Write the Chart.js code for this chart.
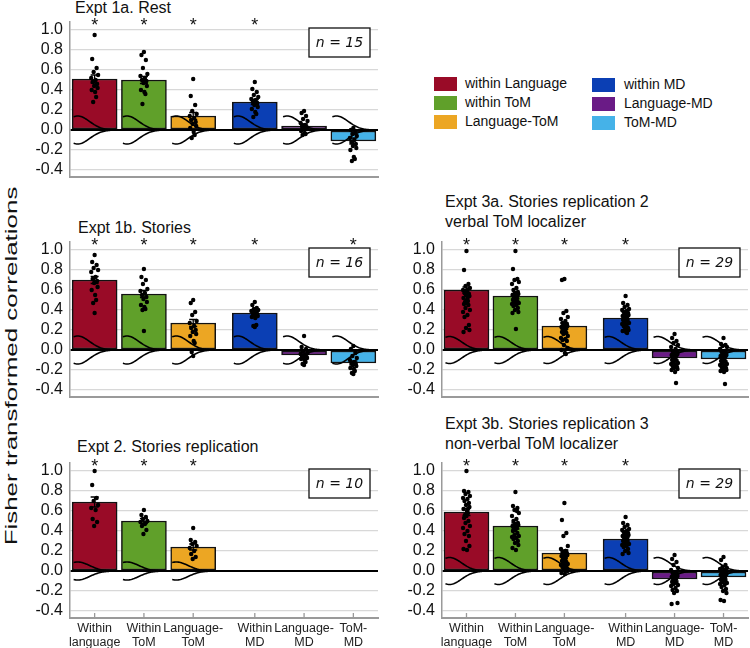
<!DOCTYPE html>
<html>
<head>
<meta charset="utf-8">
<script src="https://cdn.jsdelivr.net/npm/chart.js@4.4.1/dist/chart.umd.min.js"></script>
<style>
  body { margin: 0; width: 750px; height: 648px; overflow: hidden; background: #fff; position: relative;
         font-family: "Liberation Sans", Arial, Helvetica, sans-serif; color: #111; }
  canvas { position: absolute; }
  .title { position: absolute; font-size: 16px; line-height: 20px; white-space: nowrap; }
  .ytitle { position: absolute; left: 12px; top: 366px; font-size: 16px; white-space: nowrap;
            transform: translate(-50%, -50%) rotate(-90deg) scaleX(1.62); }
  .leg { position: absolute; font-size: 14px; line-height: 14px; white-space: nowrap; }
  .leg span { position: absolute; top: 0; width: 23px; height: 14px; }
</style>
</head>
<body>
<div class="ytitle">Fisher transformed correlations</div>

<div class="title" style="left:75px;top:-2px">Expt 1a. Rest</div>
<div class="title" style="left:78px;top:218px">Expt 1b. Stories</div>
<div class="title" style="left:77px;top:437px">Expt 2. Stories replication</div>
<div class="title" style="left:445px;top:192px">Expt 3a. Stories replication 2<br>verbal ToM localizer</div>
<div class="title" style="left:445px;top:414px">Expt 3b. Stories replication 3<br>non-verbal ToM localizer</div>

<div id="legend"></div>

<canvas id="c1a" width="365" height="179" style="left:15px;top:0px"></canvas>
<canvas id="c1b" width="365" height="179" style="left:15px;top:220px"></canvas>
<canvas id="c2" width="365" height="207" style="left:15px;top:441px"></canvas>
<canvas id="c3a" width="363" height="179" style="left:387px;top:220px"></canvas>
<canvas id="c3b" width="363" height="207" style="left:387px;top:441px"></canvas>

<script>
// categories and tick labels
const categories = ["within Language", "within ToM", "Language-ToM", "within MD", "Language-MD", "ToM-MD"];
const tickLabels = [["Within", "language"], ["Within", "ToM"], ["Language-", "ToM"],
                    ["Within", "MD"], ["Language-", "MD"], ["ToM-", "MD"]];
const barColors = ["#990b27", "#60a02a", "#eca623", "#0b3fb4", "#6a1b86", "#45b2e8"];
const xPositions = [1, 2, 3, 4.25, 5.25, 6.25];
const yTicks = [-0.4, -0.2, 0, 0.2, 0.4, 0.6, 0.8, 1.0];

// Expt 1a. Rest (n = 15)
const rest1aMeans = [0.51, 0.50, 0.14, 0.28, 0.04, -0.11];
const rest1aSem = [0.04, 0.035, 0.035, 0.025, 0.02, 0.03];
const rest1aSig = [1, 1, 1, 1, 0, 0];
const rest1aDots = [
  [0.95, 0.71, 0.62, 0.58, 0.55, 0.52, 0.50, 0.48, 0.46, 0.44, 0.42, 0.40, 0.38, 0.33, 0.28],
  [0.78, 0.75, 0.70, 0.62, 0.56, 0.54, 0.52, 0.50, 0.49, 0.47, 0.44, 0.40, 0.38, 0.36, 0.26],
  [0.51, 0.34, 0.25, 0.19, 0.16, 0.14, 0.12, 0.10, 0.08, 0.06, 0.04, 0.02, -0.02, -0.05, -0.08],
  [0.48, 0.41, 0.38, 0.35, 0.33, 0.31, 0.30, 0.28, 0.27, 0.25, 0.23, 0.21, 0.18, 0.16, 0.13],
  [0.19, 0.17, 0.14, 0.11, 0.09, 0.07, 0.05, 0.04, 0.03, 0.02, 0.01, -0.01, -0.03, -0.04, -0.05],
  [0.02, 0.00, -0.02, -0.04, -0.06, -0.08, -0.10, -0.12, -0.14, -0.16, -0.18, -0.20, -0.27, -0.29, -0.31]
];

// Expt 1b. Stories (n = 16)
const stories1bMeans = [0.70, 0.56, 0.27, 0.37, -0.05, -0.13];
const stories1bSem = [0.035, 0.035, 0.035, 0.02, 0.02, 0.02];
const stories1bSig = [1, 1, 1, 1, 0, 1];
const stories1bDots = [
  [0.95, 0.88, 0.85, 0.82, 0.80, 0.78, 0.73, 0.71, 0.69, 0.67, 0.63, 0.60, 0.55, 0.50, 0.47, 0.37],
  [0.81, 0.73, 0.70, 0.66, 0.61, 0.59, 0.57, 0.55, 0.53, 0.51, 0.48, 0.45, 0.43, 0.41, 0.40, 0.19],
  [0.50, 0.47, 0.38, 0.35, 0.29, 0.27, 0.24, 0.22, 0.20, 0.18, 0.16, 0.14, 0.09, 0.07, -0.02, -0.06],
  [0.48, 0.45, 0.42, 0.41, 0.40, 0.39, 0.38, 0.37, 0.36, 0.35, 0.34, 0.33, 0.32, 0.25, 0.24, 0.23],
  [0.14, 0.03, 0.01, -0.01, -0.03, -0.04, -0.05, -0.06, -0.07, -0.07, -0.08, -0.09, -0.10, -0.12, -0.14, -0.15],
  [0.04, 0.01, -0.03, -0.06, -0.08, -0.10, -0.12, -0.13, -0.14, -0.15, -0.16, -0.18, -0.19, -0.21, -0.23, -0.24]
];

// Expt 2. Stories replication (n = 10), no MD regions
const replication2Means = [0.69, 0.50, 0.24, null, null, null];
const replication2Sem = [0.05, 0.025, 0.03, 0, 0, 0];
const replication2Sig = [1, 1, 1, 0, 0, 0];
const replication2Dots = [
  [1.00, 0.86, 0.73, 0.70, 0.66, 0.63, 0.61, 0.52, 0.49, 0.45],
  [0.61, 0.56, 0.54, 0.52, 0.50, 0.49, 0.47, 0.45, 0.41, 0.37],
  [0.43, 0.31, 0.29, 0.27, 0.25, 0.23, 0.20, 0.17, 0.14, 0.12],
  [], [], []
];

// Expt 3a. Stories replication 2, verbal ToM localizer (n = 29)
const replication3aMeans = [0.60, 0.54, 0.24, 0.32, -0.08, -0.09];
const replication3aSem = [0.03, 0.025, 0.03, 0.015, 0.02, 0.02];
const replication3aSig = [1, 1, 1, 1, 0, 0];
const replication3aDots = [
  [0.99, 0.80, 0.66, 0.64, 0.62, 0.60, 0.58, 0.57, 0.56, 0.55, 0.54, 0.52, 0.50, 0.49, 0.48, 0.47, 0.46, 0.45, 0.42, 0.40, 0.38, 0.35, 0.33, 0.25, 0.22, 0.20, 0.18, 0.60, 0.53],
  [0.99, 0.81, 0.71, 0.70, 0.68, 0.66, 0.62, 0.60, 0.58, 0.57, 0.56, 0.55, 0.54, 0.53, 0.52, 0.51, 0.50, 0.49, 0.48, 0.47, 0.46, 0.45, 0.44, 0.42, 0.40, 0.38, 0.37, 0.21, 0.55],
  [0.71, 0.70, 0.39, 0.37, 0.33, 0.31, 0.29, 0.27, 0.26, 0.25, 0.24, 0.23, 0.22, 0.21, 0.20, 0.19, 0.18, 0.17, 0.16, 0.14, 0.12, 0.11, 0.10, 0.09, 0.05, 0.02, 0.00, -0.03, -0.04],
  [0.54, 0.47, 0.45, 0.43, 0.41, 0.40, 0.39, 0.38, 0.37, 0.36, 0.35, 0.34, 0.33, 0.32, 0.31, 0.30, 0.30, 0.29, 0.28, 0.27, 0.26, 0.25, 0.24, 0.22, 0.21, 0.20, 0.19, 0.18, 0.17],
  [0.16, 0.12, 0.09, 0.07, 0.05, 0.03, 0.01, -0.01, -0.02, -0.03, -0.04, -0.05, -0.06, -0.07, -0.08, -0.09, -0.10, -0.11, -0.12, -0.13, -0.14, -0.15, -0.16, -0.17, -0.18, -0.19, -0.20, -0.22, -0.33],
  [0.12, 0.06, 0.05, 0.04, 0.03, 0.01, -0.01, -0.02, -0.03, -0.04, -0.05, -0.06, -0.07, -0.08, -0.09, -0.10, -0.11, -0.12, -0.13, -0.14, -0.15, -0.16, -0.17, -0.18, -0.19, -0.20, -0.21, -0.22, -0.34]
];

// Expt 3b. Stories replication 3, non-verbal ToM localizer (n = 29)
const replication3bMeans = [0.59, 0.45, 0.18, 0.32, -0.08, -0.06];
const replication3bSem = [0.035, 0.03, 0.03, 0.015, 0.02, 0.02];
const replication3bSig = [1, 1, 1, 1, 0, 0];
const replication3bDots = [
  [1.00, 0.80, 0.79, 0.77, 0.75, 0.73, 0.72, 0.70, 0.68, 0.66, 0.64, 0.62, 0.60, 0.58, 0.56, 0.55, 0.53, 0.50, 0.48, 0.45, 0.43, 0.40, 0.37, 0.35, 0.30, 0.25, 0.22, 0.21, 0.62],
  [0.79, 0.65, 0.63, 0.61, 0.58, 0.55, 0.52, 0.50, 0.48, 0.47, 0.46, 0.45, 0.44, 0.43, 0.42, 0.41, 0.40, 0.38, 0.36, 0.35, 0.34, 0.33, 0.32, 0.30, 0.28, 0.26, 0.23, 0.21, 0.60],
  [0.68, 0.51, 0.38, 0.35, 0.25, 0.22, 0.20, 0.19, 0.18, 0.17, 0.16, 0.15, 0.14, 0.13, 0.12, 0.11, 0.10, 0.09, 0.08, 0.07, 0.06, 0.05, 0.04, 0.03, 0.02, 0.00, -0.02, -0.03, 0.20],
  [0.54, 0.48, 0.46, 0.44, 0.42, 0.41, 0.40, 0.39, 0.38, 0.37, 0.36, 0.35, 0.34, 0.33, 0.32, 0.31, 0.30, 0.29, 0.28, 0.27, 0.26, 0.25, 0.24, 0.22, 0.20, 0.18, 0.17, 0.35, 0.33],
  [0.16, 0.12, 0.09, 0.06, 0.03, 0.01, -0.01, -0.02, -0.03, -0.04, -0.05, -0.06, -0.07, -0.08, -0.09, -0.10, -0.11, -0.12, -0.13, -0.14, -0.15, -0.17, -0.19, -0.20, -0.22, -0.32, -0.33, -0.05, -0.07],
  [0.14, 0.11, 0.06, 0.04, 0.03, 0.02, 0.01, 0.00, -0.01, -0.02, -0.03, -0.04, -0.05, -0.06, -0.07, -0.08, -0.09, -0.10, -0.11, -0.12, -0.13, -0.14, -0.16, -0.18, -0.20, -0.22, -0.29, -0.30, -0.06]
];

// small fixed horizontal spread for the subject dots (x units)
const jitter = [0, -0.05, 0.04, -0.02, 0.07, -0.07, 0.02, -0.04, 0.05, -0.01, 0.06, -0.06, 0.01, 0.03, -0.03];

// legend
const legendSpots = [[434, 77], [434, 96], [434, 115], [592, 78], [592, 97], [592, 116]];
document.getElementById("legend").innerHTML = categories.map((c, i) =>
  `<div class="leg" style="left:${legendSpots[i][0]}px;top:${legendSpots[i][1]}px">` +
  `<span style="left:0;background:${barColors[i]}"></span>` +
  `<div style="position:absolute;left:${i < 3 ? 31 : 32}px;top:-1px">${c}</div></div>`).join("");

// error bars, density curves, stars and the n box
const overlay = {
  id: "overlay",
  afterDatasetDraw(chart, args, opts) {
    if (args.index !== 0) return;
    const { ctx } = chart;
    const x = chart.scales.x, y = chart.scales.y;
    const y0 = y.getPixelForValue(0);
    const amp = y0 - y.getPixelForValue(opts.bell);
    ctx.save();
    opts.means.forEach((m, i) => {
      if (m === null) return;
      const cx = x.getPixelForValue(xPositions[i]);
      // sideways density curve
      ctx.beginPath();
      for (let k = 0; k <= 40; k++) {
        const dx = -21 + k * 41 / 40;
        const h = amp * Math.exp(-Math.pow((dx + 17) / 12, 2) / 2);
        k ? ctx.lineTo(cx + dx, y0 - h) : ctx.moveTo(cx + dx, y0 - h);
      }
      for (let k = 40; k >= 0; k--) {
        const dx = -21 + k * 41 / 40;
        const h = amp * Math.exp(-Math.pow((dx + 17) / 12, 2) / 2);
        ctx.lineTo(cx + dx, y0 + h);
      }
      ctx.strokeStyle = "#000";
      ctx.lineWidth = 1.6;
      ctx.stroke();
      // error bar
      const t = y.getPixelForValue(m + opts.sem[i]);
      const b = y.getPixelForValue(m - opts.sem[i]);
      ctx.beginPath();
      ctx.moveTo(cx, t); ctx.lineTo(cx, b);
      ctx.moveTo(cx - 4, t); ctx.lineTo(cx + 4, t);
      ctx.moveTo(cx - 4, b); ctx.lineTo(cx + 4, b);
      ctx.lineWidth = 1.3;
      ctx.stroke();
    });
    ctx.restore();
  },
  afterDraw(chart, args, opts) {
    const { ctx, chartArea } = chart;
    const x = chart.scales.x, y = chart.scales.y;
    ctx.save();
    // short upward ticks on the category axis
    if (opts.labels) {
      ctx.strokeStyle = "#9a9a9a";
      ctx.lineWidth = 1.3;
      ctx.beginPath();
      xPositions.forEach(v => {
        const px = x.getPixelForValue(v);
        ctx.moveTo(px, chartArea.bottom); ctx.lineTo(px, chartArea.bottom - 5);
      });
      ctx.stroke();
    }
    ctx.fillStyle = "#111";
    ctx.font = '18px "Liberation Sans", Arial, sans-serif';
    ctx.textAlign = "center";
    ctx.textBaseline = "alphabetic";
    opts.sig.forEach((s, i) => {
      if (s) ctx.fillText("*", x.getPixelForValue(xPositions[i]), y.getPixelForValue(1.09) + 10);
    });
    const bx = chartArea.right - 8 - 61, by = chartArea.top + 6;
    ctx.fillStyle = "#fff";
    ctx.fillRect(bx, by, 61, 29);
    ctx.strokeStyle = "#111";
    ctx.lineWidth = 1.3;
    ctx.strokeRect(bx, by, 61, 29);
    ctx.fillStyle = "#111";
    ctx.font = 'italic 14px "DejaVu Sans", sans-serif';
    ctx.textBaseline = "middle";
    ctx.fillText("n = " + opts.n, bx + 30.5, by + 15);
    ctx.restore();
  }
};

function makePanel(id, means, sem, sig, dots, n, bell, showLabels) {
  const bars = means.map((m, i) => ({ x: xPositions[i], y: m }));
  const points = [];
  dots.forEach((list, i) => list.forEach((v, j) =>
    points.push({ x: xPositions[i] + jitter[j % jitter.length], y: v })));
  new Chart(document.getElementById(id), {
    type: "bar",
    data: {
      datasets: [
        { type: "bar", data: bars, backgroundColor: barColors, borderColor: "#111",
          borderWidth: 1.5, borderSkipped: false, barThickness: 45, order: 2 },
        { type: "scatter", data: points, backgroundColor: "#000", borderWidth: 0,
          pointRadius: 2.2, order: 1, clip: false }
      ]
    },
    options: {
      responsive: false,
      animation: false,
      layout: { autoPadding: false, padding: { top: 22, right: 2, left: 0, bottom: 0 } },
      plugins: {
        legend: { display: false },
        tooltip: { enabled: false },
        overlay: { means, sem, sig, n, bell, labels: showLabels }
      },
      scales: {
        x: {
          type: "linear", min: 0.5, max: 6.75, offset: false,
          grid: { display: false, drawTicks: false, tickLength: 0 },
          border: { display: true, color: "#9a9a9a", width: 2 },
          afterBuildTicks: s => { s.ticks = xPositions.map(v => ({ value: v })); },
          afterFit: s => { s.height = showLabels ? 30 : 2; s.paddingLeft = 0; s.paddingRight = 0; },
          ticks: {
            display: showLabels, padding: 4, autoSkip: false, maxRotation: 0,
            color: "#222", font: { size: 12.5, lineHeight: 1.07, family: '"Liberation Sans", Arial, sans-serif' },
            callback: (v, i) => tickLabels[i]
          }
        },
        y: {
          min: -0.47, max: 1.08,
          afterBuildTicks: s => { s.ticks = yTicks.map(v => ({ value: v })); },
          afterFit: s => { s.width = 55; s.paddingTop = 0; s.paddingBottom = 0; },
          grid: {
            drawTicks: false,
            color: c => (c.tick && c.tick.value === 0 ? "#000" : "#d8d8d8"),
            lineWidth: c => (c.tick && c.tick.value === 0 ? 2 : 1.3)
          },
          border: { display: true, color: "#9a9a9a", width: 1.5 },
          ticks: {
            padding: 7, color: "#111", autoSkip: false,
            font: { size: 16, family: '"Liberation Sans", Arial, sans-serif' },
            callback: v => v.toFixed(1)
          }
        }
      }
    },
    plugins: [overlay]
  });
}

makePanel("c1a", rest1aMeans, rest1aSem, rest1aSig, rest1aDots, 15, 0.14, false);
makePanel("c1b", stories1bMeans, stories1bSem, stories1bSig, stories1bDots, 16, 0.14, false);
makePanel("c2", replication2Means, replication2Sem, replication2Sig, replication2Dots, 10, 0.09, true);
makePanel("c3a", replication3aMeans, replication3aSem, replication3aSig, replication3aDots, 29, 0.135, false);
makePanel("c3b", replication3bMeans, replication3bSem, replication3bSig, replication3bDots, 29, 0.135, true);
</script>
</body>
</html>
